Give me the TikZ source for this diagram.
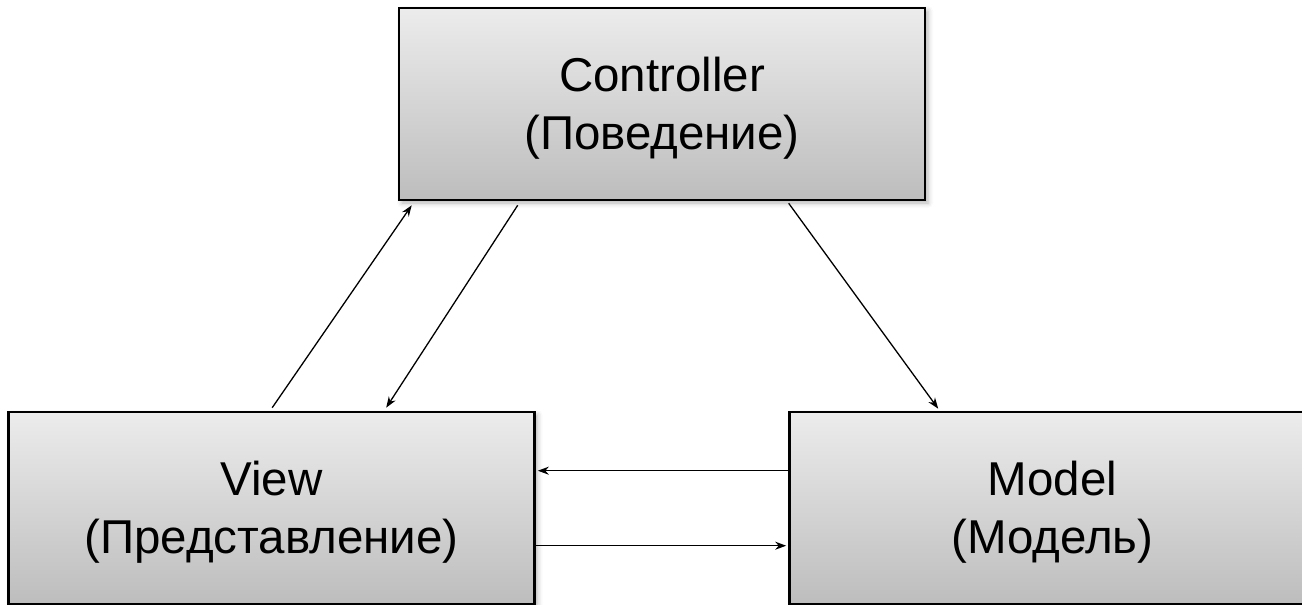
\documentclass[tikz,border=0pt]{standalone}
\usepackage{fontspec}
\setmainfont{Liberation Sans}
\usetikzlibrary{arrows.meta,shadows.blur}
\definecolor{boxtop}{RGB}{236,236,236}
\definecolor{boxbot}{RGB}{189,189,189}
\newcommand{\topstrut}{\rule{0pt}{43pt}}
\tikzset{
  mvcbox/.style={rectangle, draw=black, line width=2.6pt,
    top color=boxtop, bottom color=boxbot,
    minimum width=526pt, minimum height=192pt, inner sep=0pt,
    align=center, font=\fontsize{47.5}{58}\selectfont,
    blur shadow={shadow xshift=3pt, shadow yshift=-3pt, shadow blur radius=5pt, shadow opacity=30}},
  arr/.style={line width=1.3pt, -{Stealth[length=11pt,width=8pt,inset=3.5pt]}}
}
\begin{document}
\begin{tikzpicture}[x=1pt,y=-1pt]
\useasboundingbox (0,0) rectangle (1302,605);
\node[mvcbox] (ctrl) at (662,104) {\topstrut Controller\\(Поведение)};
\node[mvcbox] (view) at (271.5,508) {\topstrut View\\(Представление)};
\node[mvcbox] (model) at (1052.5,508) {\topstrut Model\\(Модель)};
\draw[arr] ([xshift=265pt,yshift=3pt]view.north west) -- ([xshift=14pt,yshift=-4pt]ctrl.south west);
\draw[arr] ([xshift=120pt,yshift=-4pt]ctrl.south west) -- ([xshift=379pt,yshift=3pt]view.north west);
\draw[arr] ([xshift=391pt,yshift=-2pt]ctrl.south west) -- ([xshift=150pt,yshift=2pt]model.north west);
\draw[arr] ([yshift=-60pt]model.north west) -- ([xshift=2pt,yshift=-60pt]view.north east);
\draw[arr] ([yshift=-135pt]view.north east) -- ([xshift=-2pt,yshift=-135pt]model.north west);
\end{tikzpicture}
\end{document}
